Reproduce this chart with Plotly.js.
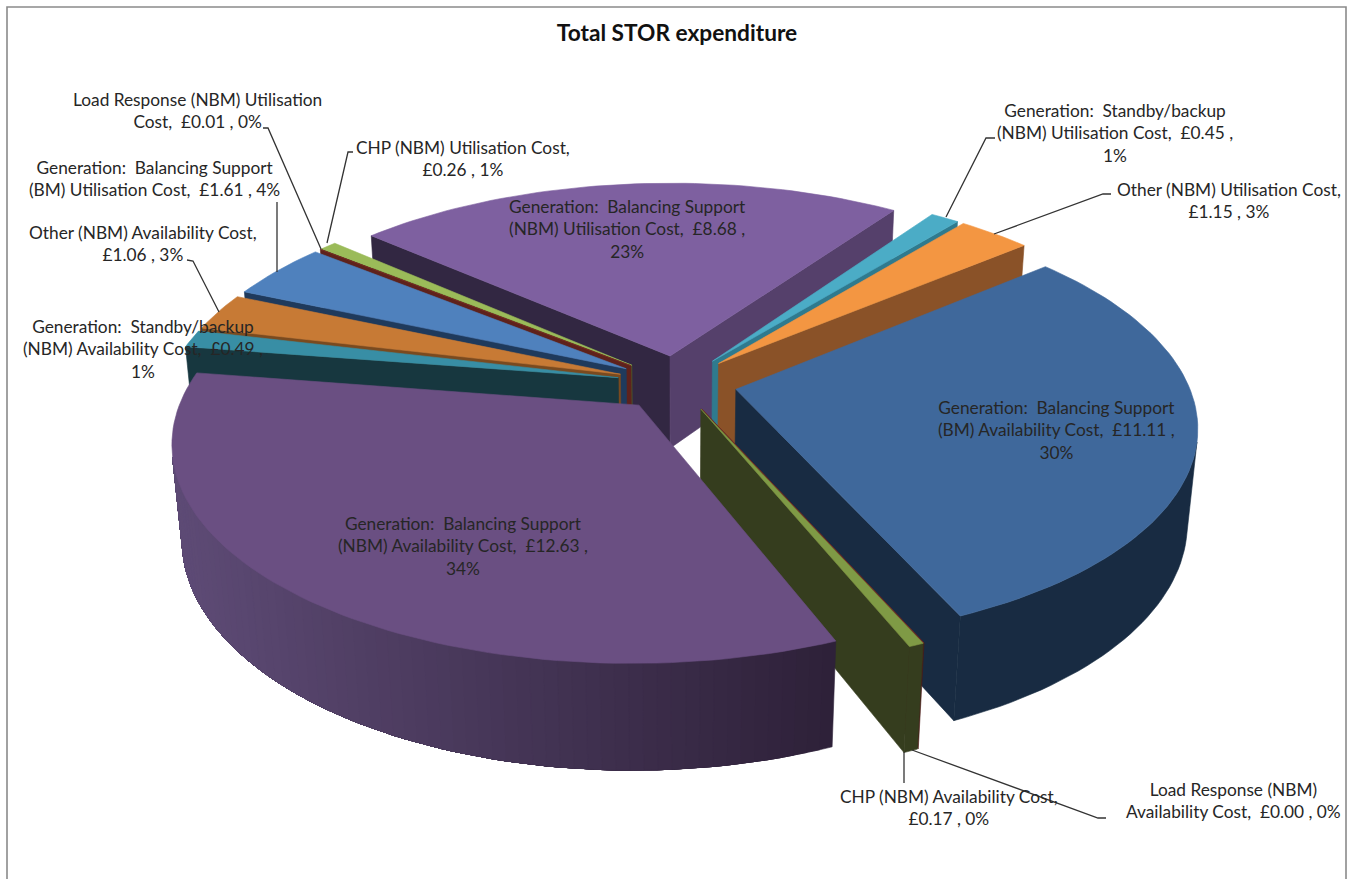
<!DOCTYPE html>
<html>
<head>
<meta charset="utf-8">
<title>Total STOR expenditure</title>
<script src="https://cdn.plot.ly/plotly-3.0.1.min.js"></script>
<style>
html,body{margin:0;padding:0;background:#fff}
#chart{width:1349px;height:879px}
#chart text{font-variant-ligatures:none}
</style>
</head>
<body>
<div id="chart"></div>
<script>
// Cost per service, GBP millions, clockwise from the first slice.
const costs = [11.11, 0.00, 0.17, 12.63, 0.49, 1.06, 1.61, 0.01, 0.26, 8.68, 0.45, 1.15];

// Label lines; {v} and {p} are filled from the cost and its share of the total.
const labelLines = [
  ["Generation:\u00A0 Balancing Support", "(BM) Availability Cost,\u00A0 £{v} ,", "{p}%"],
  ["Load Response (NBM)", "Availability Cost,\u00A0 £{v} , {p}%"],
  ["CHP (NBM) Availability Cost,", "£{v} , {p}%"],
  ["Generation:\u00A0 Balancing Support", "(NBM) Availability Cost,\u00A0 £{v} ,", "{p}%"],
  ["Generation:\u00A0 Standby/backup", "(NBM) Availability Cost,\u00A0 £{v} ,", "{p}%"],
  ["Other (NBM) Availability Cost,", "£{v} , {p}%"],
  ["Generation:\u00A0 Balancing Support", "(BM) Utilisation Cost,\u00A0 £{v} , {p}%"],
  ["Load Response (NBM) Utilisation", "Cost,\u00A0 £{v} , {p}%"],
  ["CHP (NBM) Utilisation Cost,", "£{v} , {p}%"],
  ["Generation:\u00A0 Balancing Support", "(NBM) Utilisation Cost,\u00A0 £{v} ,", "{p}%"],
  ["Generation:\u00A0 Standby/backup", "(NBM) Utilisation Cost,\u00A0 £{v} ,", "{p}%"],
  ["Other (NBM) Utilisation Cost,", "£{v} , {p}%"]
];
const labelX = [1056, 1233, 949, 463, 143, 143, 154, 197, 463, 627, 1115, 1229];
const labelY = [430, 800, 807, 546, 349, 243, 178, 110, 158, 229, 133, 200];

// Face colours per slice.
const topColors   = ["#3f689b", "#7a2c28", "#7f9a45", "#6a4f82", "#388ea5", "#c77a35", "#4f81bd", "#7a2c22", "#9bbb59", "#7e60a0", "#4bacc6", "#f39642"];
const startWalls  = ["#182b42", "#4a1b18", "#353d1e", "#3a2c4c", "#17373f", "#7a4a1f", "#1f3a5c", "#5e221c", "#4c5a2a", "#322742", "#2f7a8e", "#8a5228"];
const endWalls    = ["#182b42", "#4a1b18", "#353d1e", "#3a2c4c", "#17373f", "#7a4a1f", "#1f3a5c", "#5e221c", "#4c5a2a", "#55406b", "#2f7a8e", "#8a5228"];
const outerFrom   = ["#182b42", "#4a1b18", "#353d1e", "#2e2139", "#17373f", "#7a4a1f", "#1f3a5c", "#5e221c", "#4c5a2a", "#322742", "#2f7a8e", "#8a5228"];
const outerTo     = ["#182b42", "#4a1b18", "#353d1e", "#5e4b76", "#17373f", "#7a4a1f", "#1f3a5c", "#5e221c", "#4c5a2a", "#322742", "#2f7a8e", "#8a5228"];

// Painter's order, rear slices first.
const drawOrder = [9, 8, 7, 6, 10, 11, 5, 4, 0, 1, 2, 3];

// Leader lines from a label to its slice.
const leaders = [
  [[263, 128], [268, 128], [321, 249]],
  [[353, 152], [348, 152], [327, 243]],
  [[277, 202], [277, 272]],
  [[187, 260], [193, 261], [219, 312]],
  [[995, 138], [986, 138], [946, 217]],
  [[1111, 194], [1103, 194], [994, 234]],
  [[904, 783], [904, 752]],
  [[1106, 818], [1098, 818], [912, 750]]
];

// Camera and pie geometry for the tilted, exploded pie.
const firstAngle = 50, explode = 0.133, thickness = 0.238;
const elevation = 27.5 * Math.PI / 180, camDist = 5.5, focal = 452 * 5.5;
const originX = 677, originY = 383;

function project(X, Y, Z) {
  const c = Math.cos(elevation), s = Math.sin(elevation);
  const depth = camDist + Y * c - Z * s;
  return [originX + focal * X / depth, originY - focal * (Y * s + Z * c) / depth];
}
function hexMix(a, b, t) {
  const p = h => [1, 3, 5].map(i => parseInt(h.substr(i, 2), 16));
  const A = p(a), B = p(b);
  return "rgb(" + A.map((v, i) => Math.round(v + (B[i] - v) * t)).join(",") + ")";
}
function polygon(points, color) {
  const xs = points.map(p => p[0]).concat(points[0][0]);
  const ys = points.map(p => p[1]).concat(points[0][1]);
  return {
    type: "scatter", mode: "lines", x: xs, y: ys, fill: "toself", fillcolor: color,
    line: {color: color, width: 0.6}, hoverinfo: "skip", showlegend: false
  };
}
// Signed area on the y-down canvas; negative means the face looks at the viewer.
function facing(points) {
  let a = 0;
  for (let i = 0; i < points.length; i++) {
    const p = points[i], q = points[(i + 1) % points.length];
    a += p[0] * q[1] - q[0] * p[1];
  }
  return a;
}

const total = costs.reduce((a, b) => a + b, 0);
const spans = [];
let running = firstAngle;
costs.forEach(v => { const d = v / total * 360; spans.push([running, running + d]); running += d; });

const traces = [];
drawOrder.forEach(i => {
  const [a0, a1] = spans[i];
  const mid = (a0 + a1) / 2 * Math.PI / 180;
  const ox = explode * Math.sin(mid), oy = explode * Math.cos(mid);
  const rim = (deg, z) => {
    const r = deg * Math.PI / 180;
    return project(ox + Math.sin(r), oy + Math.cos(r), z);
  };
  const hubTop = project(ox, oy, 0), hubLow = project(ox, oy, -thickness);

  // Radial faces at the two cut edges of the slice.
  const startFace = [hubTop, rim(a0, 0), rim(a0, -thickness), hubLow];
  const endFace = [hubTop, hubLow, rim(a1, -thickness), rim(a1, 0)];
  if (facing(startFace) < 0) traces.push(polygon(startFace, startWalls[i]));
  if (facing(endFace) < 0) traces.push(polygon(endFace, endWalls[i]));

  // Curved outer wall: only the part turned towards the viewer. Each pass paints
  // from its own angle to the far end of that part, so no seams show between shades.
  const strips = Math.max(1, Math.ceil((a1 - a0) / 1.5));
  const edge = k => a0 + (a1 - a0) * k / strips;
  const shown = [];
  for (let k = 0; k < strips; k++) {
    const quad = [rim(edge(k), 0), rim(edge(k + 1), 0), rim(edge(k + 1), -thickness), rim(edge(k), -thickness)];
    if (facing(quad) < 0) shown.push(k);
  }
  if (shown.length) {
    const first = shown[0], last = shown[shown.length - 1] + 1;
    const xStart = rim(edge(first), 0)[0], xEnd = rim(edge(last), 0)[0];
    const uniform = outerFrom[i] === outerTo[i];
    for (let k = first; k < last; k++) {
      const upper = [], lower = [];
      for (let j = k; j <= last; j++) { upper.push(rim(edge(j), 0)); lower.unshift(rim(edge(j), -thickness)); }
      const t = xEnd === xStart ? 0 : (rim(edge(k), 0)[0] - xStart) / (xEnd - xStart);
      traces.push(polygon(upper.concat(lower), hexMix(outerFrom[i], outerTo[i], t)));
      if (uniform) break;
    }
  }

  // Top face.
  const top = [hubTop];
  const steps = Math.max(1, Math.ceil((a1 - a0) / 1.5));
  for (let k = 0; k <= steps; k++) top.push(rim(a0 + (a1 - a0) * k / steps, 0));
  traces.push(polygon(top, topColors[i]));
});

leaders.forEach(path => traces.push({
  type: "scatter", mode: "lines", x: path.map(p => p[0]), y: path.map(p => p[1]),
  line: {color: "#333333", width: 1.3}, hoverinfo: "skip", showlegend: false
}));

const annotations = labelLines.map((lines, i) => ({
  x: labelX[i], y: labelY[i], xref: "x", yref: "y", xanchor: "center", yanchor: "middle",
  showarrow: false, align: "center",
  text: lines.join("<br>")
    .replace("{v}", costs[i].toFixed(2))
    .replace("{p}", (costs[i] / total * 100).toFixed(0)),
  font: {family: "Lato, sans-serif", size: 17.3, color: "#262626"}
}));

const layout = {
  width: 1349, height: 879, margin: {l: 0, r: 0, t: 0, b: 0},
  paper_bgcolor: "#ffffff", plot_bgcolor: "#ffffff", showlegend: false,
  title: {
    text: "<b>Total STOR expenditure</b>", x: 677 / 1349, xanchor: "center",
    y: 1 - 33 / 879, yanchor: "middle", font: {family: "Lato, sans-serif", size: 22.7, color: "#111111"}
  },
  xaxis: {range: [0, 1349], visible: false, fixedrange: true},
  yaxis: {range: [879, 0], visible: false, fixedrange: true},
  annotations: annotations,
  shapes: [{
    type: "path", xref: "x", yref: "y", path: "M7,885 L7,7 L1346,7 L1346,885",
    line: {color: "#8a8a8a", width: 1.6}
  }]
};
Plotly.newPlot("chart", traces, layout, {displayModeBar: false, staticPlot: true});
</script>
</body>
</html>
